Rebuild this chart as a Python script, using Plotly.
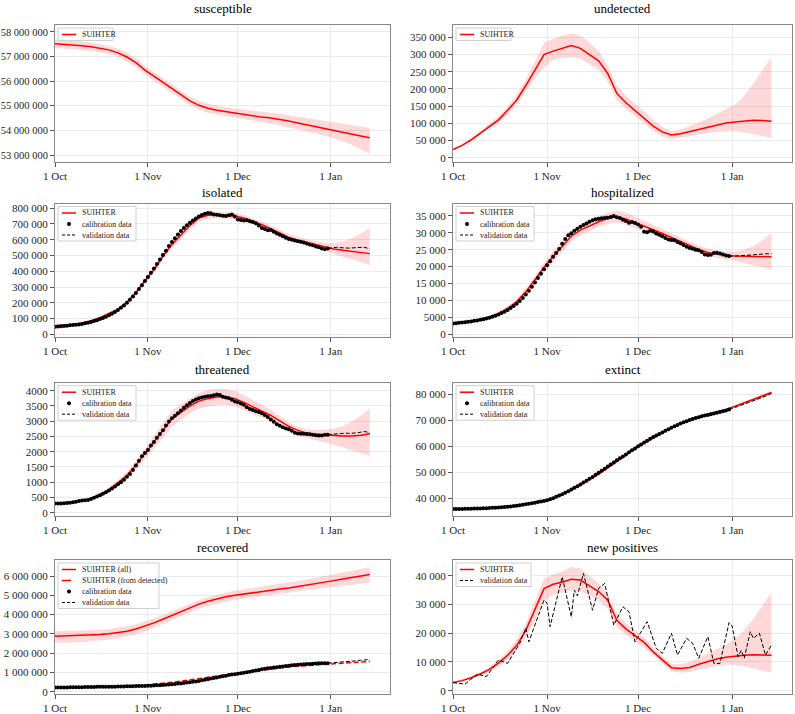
import pandas as pd
import plotly.graph_objects as go

# ---------------- data ----------------
start = pd.Timestamp('2020-10-01')
model_days = list(range(0, 106, 3))      # model output every 3 days, 1 Oct .. 14 Jan
calib_days = list(range(0, 92))          # daily calibration data, 1 Oct .. 31 Dec
valid_days = list(range(91, 106))        # daily validation data, 31 Dec .. 14 Jan

# susceptible (millions)
susceptible = [57.52, 57.50, 57.47, 57.44, 57.40, 57.34, 57.27, 57.15, 56.98, 56.75,
               56.45, 56.20, 55.95, 55.70, 55.45, 55.20, 55.02, 54.90, 54.82, 54.76,
               54.70, 54.64, 54.59, 54.54, 54.50, 54.45, 54.38, 54.30, 54.22, 54.15,
               54.08, 54.00, 53.93, 53.85, 53.77, 53.70]
susceptible_hi = [57.70, 57.68, 57.65, 57.62, 57.57, 57.51, 57.43, 57.32, 57.16, 56.93,
                  56.63, 56.37, 56.11, 55.86, 55.62, 55.38, 55.20, 55.08, 55.00, 54.94,
                  54.89, 54.84, 54.80, 54.76, 54.72, 54.68, 54.63, 54.57, 54.50, 54.44,
                  54.38, 54.32, 54.27, 54.22, 54.16, 54.10]
susceptible_lo = [57.35, 57.33, 57.30, 57.27, 57.23, 57.17, 57.10, 56.98, 56.80, 56.57,
                  56.27, 56.02, 55.78, 55.53, 55.28, 55.03, 54.84, 54.72, 54.64, 54.58,
                  54.51, 54.45, 54.39, 54.33, 54.28, 54.22, 54.14, 54.05, 53.96, 53.88,
                  53.78, 53.68, 53.56, 53.42, 53.25, 53.05]

# undetected (thousands)
undetected = [24, 36, 52, 72, 92, 110, 138, 168, 210, 255,
              300, 310, 317, 326, 318, 300, 282, 245, 187, 160,
              137, 115, 92, 75, 66, 70, 76, 83, 90, 96,
              101, 104, 107, 109, 108, 106]
undetected_hi = [26, 40, 57, 78, 100, 120, 150, 183, 228, 280,
                 333, 345, 355, 362, 355, 335, 310, 270, 210, 180,
                 158, 135, 110, 90, 77, 82, 92, 102, 115, 128,
                 140, 155, 180, 215, 255, 292]
undetected_lo = [22, 33, 48, 66, 85, 100, 126, 155, 193, 232,
                 262, 285, 290, 292, 288, 272, 255, 222, 168, 142,
                 120, 100, 78, 62, 54, 58, 63, 68, 72, 75,
                 77, 77, 74, 70, 63, 57]

# isolated (thousands)
isolated = [54, 58, 64, 72, 86, 105, 132, 160, 205, 265,
            340, 410, 495, 570, 630, 690, 738, 756, 757, 755,
            750, 738, 718, 695, 670, 640, 615, 597, 582, 568,
            554, 542, 534, 527, 519, 512]
isolated_hi = [57, 61, 67, 76, 91, 111, 140, 170, 217, 280,
               358, 430, 518, 595, 655, 713, 760, 778, 778, 775,
               770, 758, 738, 715, 690, 660, 635, 617, 602, 590,
               580, 580, 590, 610, 640, 675]
isolated_lo = [51, 55, 61, 68, 81, 99, 124, 150, 193, 250,
               322, 390, 472, 545, 605, 667, 716, 734, 736, 735,
               730, 718, 698, 675, 650, 620, 595, 577, 562, 546,
               530, 510, 492, 475, 457, 440]
isolated_cal = [48, 50, 52, 53, 55, 57, 59, 61, 63, 66,
                70, 74, 79, 84, 90, 97, 104, 112, 121, 131,
                142, 155, 168, 183, 200, 220, 240, 262, 287, 312,
                338, 364, 390, 418, 446, 475, 503, 530, 560, 585,
                610, 633, 655, 675, 692, 708, 722, 735, 748, 757,
                765, 770, 768, 760, 758, 756, 752, 750, 755, 760,
                748, 728, 725, 722, 724, 718, 712, 705, 690, 675,
                668, 660, 662, 650, 640, 632, 622, 612, 605, 600,
                595, 590, 588, 582, 577, 570, 565, 558, 552, 545,
                540, 545]
isolated_val = [545, 548, 550, 552, 550, 548, 546, 547, 548, 550, 552, 555, 553, 548, 542]

# hospitalized (thousands)
hospitalized = [3.2, 3.5, 3.9, 4.4, 5.1, 6.1, 7.6, 9.6, 12.5, 16.1,
                19.8, 23.0, 26.0, 29.0, 30.8, 32.1, 33.3, 34.3, 34.8, 34.1,
                33.1, 32.0, 30.9, 29.8, 28.6, 27.4, 26.2, 25.1, 24.2, 23.7,
                23.3, 23.1, 23.0, 22.9, 22.9, 22.9]
hospitalized_hi = [3.4, 3.7, 4.1, 4.7, 5.5, 6.6, 8.2, 10.4, 13.5, 17.3,
                   21.3, 24.6, 27.6, 30.5, 32.4, 33.8, 35.0, 36.0, 36.6, 36.0,
                   34.8, 33.6, 32.4, 31.2, 29.9, 28.6, 27.3, 26.2, 25.3, 24.8,
                   24.5, 24.5, 25.0, 26.0, 27.8, 30.0]
hospitalized_lo = [3.0, 3.3, 3.7, 4.1, 4.7, 5.6, 7.0, 8.8, 11.5, 14.9,
                   18.3, 21.4, 24.4, 27.5, 29.2, 30.5, 31.7, 32.6, 33.1, 32.4,
                   31.4, 30.4, 29.4, 28.4, 27.3, 26.2, 25.1, 24.0, 23.1, 22.6,
                   22.1, 21.7, 21.1, 20.4, 19.7, 19.0]
hospitalized_cal = [3.1, 3.2, 3.3, 3.4, 3.5, 3.6, 3.7, 3.9, 4.0, 4.2,
                    4.4, 4.6, 4.8, 5.1, 5.4, 5.8, 6.2, 6.6, 7.1, 7.7,
                    8.3, 9.0, 9.8, 10.7, 11.7, 12.8, 14.0, 15.3, 16.6, 17.9,
                    19.2, 20.4, 21.6, 22.9, 24.0, 25.2, 26.8, 28.2, 29.3, 29.9,
                    30.6, 31.2, 31.8, 32.3, 32.8, 33.3, 33.7, 34.0, 34.2, 34.3,
                    34.4, 34.5, 34.7, 35.0, 34.6, 34.4, 33.9, 33.5, 33.0, 33.2,
                    32.9, 32.5, 31.8, 30.3, 30.2, 30.6, 30.4, 29.8, 29.4, 29.0,
                    28.5, 28.0, 27.9, 27.8, 27.3, 26.9, 26.4, 25.9, 25.5, 25.3,
                    25.0, 24.8, 24.3, 23.6, 23.4, 23.5, 24.0, 24.1, 23.9, 23.6,
                    23.3, 23.1]
hospitalized_val = [23.1, 23.0, 23.1, 23.2, 23.2, 23.3, 23.3, 23.4, 23.5, 23.5,
                    23.6, 23.7, 23.8, 23.9, 23.8]

# threatened (units)
threatened = [300, 315, 345, 385, 450, 590, 760, 980, 1230, 1560,
              1930, 2300, 2700, 3080, 3300, 3500, 3660, 3740, 3790, 3800,
              3740, 3620, 3470, 3330, 3190, 3010, 2830, 2700, 2610, 2575,
              2550, 2530, 2515, 2515, 2540, 2590]
threatened_hi = [320, 335, 370, 415, 490, 640, 830, 1070, 1340, 1700,
                 2120, 2520, 2950, 3350, 3560, 3750, 3930, 4030, 4060, 4060,
                 3990, 3860, 3690, 3520, 3370, 3170, 2970, 2830, 2740, 2710,
                 2720, 2760, 2840, 2980, 3180, 3420]
threatened_lo = [280, 295, 320, 355, 410, 540, 690, 890, 1120, 1420,
                 1750, 2090, 2450, 2820, 3050, 3260, 3410, 3480, 3530, 3540,
                 3480, 3370, 3240, 3120, 3000, 2830, 2670, 2550, 2450, 2380,
                 2300, 2230, 2140, 2060, 1960, 1870]
threatened_cal = [300, 300, 305, 310, 320, 330, 345, 360, 380, 400,
                  410, 420, 450, 490, 530, 570, 620, 670, 730, 790,
                  860, 930, 1000, 1080, 1180, 1270, 1400, 1550, 1700, 1850,
                  1960, 2060, 2200, 2320, 2460, 2580, 2700, 2860, 2990, 3100,
                  3180, 3260, 3350, 3440, 3520, 3600, 3660, 3710, 3750, 3780,
                  3800, 3820, 3830, 3850, 3880, 3860, 3800, 3780, 3750, 3700,
                  3650, 3620, 3580, 3540, 3460, 3400, 3370, 3330, 3300, 3260,
                  3200, 3140, 3060, 2980, 2900, 2850, 2800, 2760, 2740, 2690,
                  2620, 2600, 2590, 2590, 2580, 2570, 2560, 2540, 2530, 2530,
                  2560, 2560]
threatened_val = [2560, 2570, 2580, 2590, 2600, 2600, 2610, 2600, 2600, 2610,
                  2620, 2640, 2660, 2650, 2600]

# extinct (thousands)
extinct = [35.8, 35.85, 35.9, 36.0, 36.2, 36.5, 36.8, 37.2, 37.7, 38.3,
           39.0, 39.9, 41.3, 43.0, 45.0, 47.0, 49.3, 51.7, 54.2, 56.6,
           59.0, 61.2, 63.3, 65.3, 67.2, 68.8, 70.3, 71.5, 72.5, 73.3,
           74.3, 75.5, 76.8, 78.1, 79.5, 80.8]
extinct_hi = [36.0, 36.05, 36.1, 36.2, 36.4, 36.7, 37.0, 37.4, 37.9, 38.5,
              39.2, 40.1, 41.5, 43.2, 45.2, 47.2, 49.5, 51.9, 54.4, 56.8,
              59.2, 61.4, 63.5, 65.5, 67.4, 69.0, 70.5, 71.7, 72.7, 73.5,
              74.6, 75.9, 77.3, 78.7, 80.2, 81.7]
extinct_lo = [35.6, 35.65, 35.7, 35.8, 36.0, 36.3, 36.6, 37.0, 37.5, 38.1,
              38.8, 39.7, 41.1, 42.8, 44.8, 46.8, 49.1, 51.5, 54.0, 56.4,
              58.8, 61.0, 63.1, 65.1, 67.0, 68.6, 70.1, 71.3, 72.3, 73.1,
              74.0, 75.1, 76.3, 77.5, 78.8, 80.0]
extinct_cal = [35.8, 35.8, 35.8, 35.8, 35.9, 35.9, 35.9, 36.0, 36.0, 36.0,
               36.1, 36.1, 36.2, 36.3, 36.3, 36.4, 36.5, 36.6, 36.7, 36.8,
               37.0, 37.1, 37.3, 37.4, 37.6, 37.8, 38.0, 38.2, 38.5, 38.7,
               38.9, 39.2, 39.6, 40.0, 40.5, 41.0, 41.5, 42.1, 42.7, 43.3,
               44.0, 44.6, 45.3, 46.0, 46.7, 47.5, 48.2, 49.0, 49.8, 50.6,
               51.4, 52.2, 53.0, 53.8, 54.6, 55.4, 56.1, 56.9, 57.7, 58.5,
               59.2, 60.0, 60.7, 61.5, 62.2, 62.9, 63.6, 64.2, 64.8, 65.4,
               66.0, 66.6, 67.2, 67.8, 68.3, 68.8, 69.3, 69.7, 70.2, 70.6,
               71.0, 71.3, 71.6, 71.9, 72.1, 72.4, 72.7, 73.0, 73.3, 73.6,
               73.9, 74.2]
extinct_val = [74.2, 74.6, 75.0, 75.4, 75.8, 76.2, 76.6, 77.0, 77.4, 77.9,
               78.4, 78.9, 79.4, 79.9, 80.5]

# recovered (millions)
recovered = [2.88, 2.89, 2.90, 2.91, 2.93, 2.96, 3.00, 3.06, 3.14, 3.25,
             3.40, 3.57, 3.76, 3.96, 4.17, 4.36, 4.54, 4.69, 4.82, 4.92,
             5.00, 5.07, 5.14, 5.20, 5.26, 5.32, 5.38, 5.45, 5.52, 5.60,
             5.68, 5.76, 5.84, 5.92, 6.00, 6.08]
recovered_hi = [3.13, 3.14, 3.15, 3.16, 3.18, 3.21, 3.25, 3.31, 3.39, 3.50,
                3.64, 3.80, 3.98, 4.18, 4.38, 4.57, 4.75, 4.90, 5.03, 5.14,
                5.23, 5.30, 5.38, 5.45, 5.52, 5.59, 5.66, 5.74, 5.82, 5.91,
                6.00, 6.09, 6.18, 6.27, 6.36, 6.46]
recovered_lo = [2.52, 2.54, 2.56, 2.58, 2.61, 2.65, 2.70, 2.77, 2.86, 2.98,
                3.14, 3.32, 3.51, 3.71, 3.92, 4.12, 4.30, 4.45, 4.58, 4.68,
                4.76, 4.83, 4.90, 4.96, 5.02, 5.08, 5.14, 5.20, 5.26, 5.32,
                5.38, 5.44, 5.50, 5.56, 5.61, 5.66]
recovered_det = [0.22, 0.22, 0.23, 0.23, 0.24, 0.25, 0.26, 0.27, 0.29, 0.31,
                 0.34, 0.38, 0.43, 0.49, 0.55, 0.62, 0.69, 0.76, 0.82, 0.88,
                 0.94, 1.00, 1.06, 1.12, 1.18, 1.23, 1.28, 1.32, 1.36, 1.39,
                 1.42, 1.45, 1.48, 1.51, 1.54, 1.57]
recovered_cal = [0.22, 0.22, 0.22, 0.22, 0.22, 0.23, 0.23, 0.23, 0.23, 0.23,
                 0.24, 0.24, 0.24, 0.24, 0.25, 0.25, 0.25, 0.25, 0.26, 0.26,
                 0.26, 0.27, 0.27, 0.27, 0.28, 0.28, 0.28, 0.29, 0.29, 0.30,
                 0.30, 0.31, 0.31, 0.32, 0.33, 0.34, 0.35, 0.36, 0.37, 0.38,
                 0.40, 0.42, 0.43, 0.45, 0.47, 0.49, 0.51, 0.53, 0.56, 0.59,
                 0.62, 0.65, 0.68, 0.71, 0.74, 0.77, 0.80, 0.83, 0.86, 0.89,
                 0.91, 0.93, 0.95, 0.98, 1.01, 1.04, 1.07, 1.10, 1.13, 1.16,
                 1.19, 1.21, 1.23, 1.25, 1.27, 1.29, 1.31, 1.33, 1.35, 1.37,
                 1.39, 1.40, 1.41, 1.42, 1.43, 1.44, 1.45, 1.46, 1.47, 1.47,
                 1.48, 1.48]
recovered_val = [1.48, 1.49, 1.51, 1.52, 1.53, 1.55, 1.56, 1.57, 1.59, 1.60,
                 1.61, 1.63, 1.64, 1.66, 1.67]

# new positives (thousands)
newpos = [2.8, 3.5, 4.5, 5.8, 7.4, 9.6, 12.3, 15.8, 21.0, 28.0,
          35.5, 37.0, 37.7, 38.8, 38.5, 36.5, 34.5, 31.5, 24.5, 21.5,
          19.0, 16.8, 13.5, 10.8, 8.0, 7.7, 8.1, 9.2, 10.2, 11.0,
          11.6, 12.0, 12.3, 12.5, 12.5, 12.3]
newpos_hi = [3.1, 3.9, 5.0, 6.5, 8.3, 10.8, 13.9, 17.8, 23.5, 31.5,
             39.0, 40.5, 41.5, 43.0, 42.5, 40.0, 37.5, 34.0, 27.0, 23.5,
             21.0, 18.5, 15.0, 12.2, 9.3, 9.2, 10.0, 11.5, 13.0, 14.5,
             16.0, 18.0, 21.0, 25.0, 29.5, 34.3]
newpos_lo = [2.5, 3.1, 4.0, 5.1, 6.5, 8.4, 10.7, 13.8, 18.5, 24.5,
             31.0, 33.5, 34.0, 35.0, 34.5, 33.0, 31.5, 28.5, 22.0, 19.5,
             17.0, 15.0, 12.0, 9.5, 6.8, 6.2, 6.5, 7.3, 8.0, 8.5,
             9.0, 9.0, 8.5, 7.8, 7.0, 6.2]
newpos_val_days = [0, 4, 8, 11, 15, 18, 22, 24, 25, 30, 31, 32, 36, 39, 40, 41, 43, 46,
                   48, 50, 53, 56, 58, 60, 64, 67, 69, 72, 74, 77, 79, 81, 84, 86, 88,
                   91, 92, 94, 95, 96, 98, 99, 101, 103, 105]
newpos_val = [2.8, 2.3, 5.8, 4.9, 10.7, 9.5, 16.5, 21.8, 17.0, 31.5, 30.5, 22.3, 39.6,
              25.7, 35.0, 33.0, 40.8, 28.0, 35.6, 37.3, 22.8, 29.2, 27.5, 17.0, 24.0,
              14.7, 13.0, 20.0, 12.4, 18.2, 16.5, 11.3, 18.8, 9.5, 9.5, 23.7, 22.5,
              11.8, 14.0, 11.3, 20.5, 18.2, 20.0, 12.4, 15.9]

x_tickvals = ['2020-10-01', '2020-11-01', '2020-12-01', '2021-01-01']
x_ticktext = ['1 Oct', '1 Nov', '1 Dec', '1 Jan']

# ---------------- layout helpers ----------------
W, H = 795, 714
ML, MR, MT, MB = 55, 3, 25, 20
PW, PH = W - ML - MR, H - MT - MB
FONT = 'Liberation Serif'
RED = '#ff0000'
BAND = 'rgba(255,0,0,0.15)'


def fx(p):
    return (p - ML) / PW


def fy(p):
    return (H - MB - p) / PH


def to_dates(days):
    return [start + pd.Timedelta(days=d) for d in days]


def fmt(v):
    v = int(round(v))
    if abs(v) >= 10000:
        return f'{v:,}'.replace(',', ' ')
    return str(v)


col_px = {1: (55, 390), 2: (453, 792)}
row_px = {1: (25, 161.7), 2: (203.5, 336.7), 3: (382.7, 516), 4: (560, 694)}
title_px = {1: 8.3, 2: 192.3, 3: 370, 4: 547.3}

mdates = to_dates(model_days)
cdates = to_dates(calib_days)
vdates = to_dates(valid_days)

panels = [
    dict(title='susceptible', row=1, col=1, scale=1e6, model=susceptible,
         hi=susceptible_hi, lo=susceptible_lo, yrange=[52.73e6, 58.28e6],
         ticks=[53e6, 54e6, 55e6, 56e6, 57e6, 58e6], legend=['SUIHTER'], lw=55, tfs=10.5),
    dict(title='undetected', row=1, col=2, scale=1e3, model=undetected,
         hi=undetected_hi, lo=undetected_lo, yrange=[-11.6e3, 386e3],
         ticks=[0, 50e3, 100e3, 150e3, 200e3, 250e3, 300e3, 350e3], legend=['SUIHTER'], lw=55),
    dict(title='isolated', row=2, col=1, scale=1e3, model=isolated, hi=isolated_hi,
         lo=isolated_lo, cal=isolated_cal, val=isolated_val, yrange=[-15e3, 830e3],
         ticks=[0, 100e3, 200e3, 300e3, 400e3, 500e3, 600e3, 700e3, 800e3],
         legend=['SUIHTER', 'calibration data', 'validation data'], lw=78),
    dict(title='hospitalized', row=2, col=2, scale=1e3, model=hospitalized,
         hi=hospitalized_hi, lo=hospitalized_lo, cal=hospitalized_cal, val=hospitalized_val,
         yrange=[-800, 38700], ticks=[0, 5e3, 10e3, 15e3, 20e3, 25e3, 30e3, 35e3],
         legend=['SUIHTER', 'calibration data', 'validation data'], lw=78),
    dict(title='threatened', row=3, col=1, scale=1, model=threatened, hi=threatened_hi,
         lo=threatened_lo, cal=threatened_cal, val=threatened_val, yrange=[-108, 4263],
         ticks=[0, 500, 1000, 1500, 2000, 2500, 3000, 3500, 4000],
         legend=['SUIHTER', 'calibration data', 'validation data'], lw=78),
    dict(title='extinct', row=3, col=2, scale=1e3, model=extinct, hi=extinct_hi,
         lo=extinct_lo, cal=extinct_cal, val=extinct_val, yrange=[33.1e3, 84.6e3],
         ticks=[40e3, 50e3, 60e3, 70e3, 80e3],
         legend=['SUIHTER', 'calibration data', 'validation data'], lw=78),
    dict(title='recovered', row=4, col=1, scale=1e6, model=recovered, hi=recovered_hi,
         lo=recovered_lo, det=recovered_det, cal=recovered_cal, val=recovered_val,
         yrange=[-0.12e6, 6.83e6], ticks=[0, 1e6, 2e6, 3e6, 4e6, 5e6, 6e6],
         legend=['SUIHTER (all)', 'SUIHTER (from detected)', 'calibration data',
                 'validation data'], lw=101),
    dict(title='new positives', row=4, col=2, scale=1e3, model=newpos, hi=newpos_hi,
         lo=newpos_lo, yrange=[-1150, 45460], ticks=[0, 10e3, 20e3, 30e3, 40e3],
         legend=['SUIHTER', 'validation data'], lw=75),
]

fig = go.Figure()
layout = dict(width=W, height=H, margin=dict(l=ML, r=MR, t=MT, b=MB, autoexpand=False),
              paper_bgcolor='white', plot_bgcolor='white', showlegend=False,
              font=dict(family=FONT, size=11, color='#262626'))
shapes, annotations = [], []

for i, p in enumerate(panels, start=1):
    xa, ya = f'x{i}', f'y{i}'
    s = p['scale']
    L, R = col_px[p['col']]
    T, B = row_px[p['row']]

    def sc(vals):
        return [v * s for v in vals]

    fig.add_trace(go.Scatter(x=mdates + mdates[::-1], y=sc(p['hi']) + sc(p['lo'])[::-1],
                             fill='toself', fillcolor=BAND, line=dict(width=0),
                             hoverinfo='skip', xaxis=xa, yaxis=ya))
    fig.add_trace(go.Scatter(x=mdates, y=sc(p['model']), mode='lines',
                             line=dict(color=RED, width=1.5), xaxis=xa, yaxis=ya))
    if 'det' in p:
        fig.add_trace(go.Scatter(x=mdates, y=sc(p['det']), mode='lines',
                                 line=dict(color=RED, width=1.5, dash='5px,2.5px'),
                                 xaxis=xa, yaxis=ya))
    if 'cal' in p:
        fig.add_trace(go.Scatter(x=cdates, y=sc(p['cal']), mode='markers',
                                 marker=dict(color='black', size=4), xaxis=xa, yaxis=ya))
    if 'val' in p:
        fig.add_trace(go.Scatter(x=vdates, y=sc(p['val']), mode='lines',
                                 line=dict(color='black', width=1, dash='4px,2px'),
                                 xaxis=xa, yaxis=ya))
    if p['title'] == 'new positives':
        fig.add_trace(go.Scatter(x=to_dates(newpos_val_days), y=sc(newpos_val), mode='lines',
                                 line=dict(color='black', width=1, dash='4px,2px'),
                                 xaxis=xa, yaxis=ya))

    suffix = '' if i == 1 else str(i)
    layout['xaxis' + suffix] = dict(
        domain=[fx(L), fx(R)], anchor=ya, range=['2020-10-01', '2021-01-20 18:00'],
        tickvals=x_tickvals, ticktext=x_ticktext, ticks='outside', ticklen=4,
        tickcolor='#555', showgrid=True, gridcolor='#ebebeb', gridwidth=1,
        showline=True, linecolor='#888', linewidth=1, mirror=True, zeroline=False,
        automargin=False, tickfont=dict(size=11))
    layout['yaxis' + suffix] = dict(
        domain=[fy(B), fy(T)], anchor=xa, range=p['yrange'],
        tickvals=p['ticks'], ticktext=[fmt(t) for t in p['ticks']], ticks='outside',
        ticklen=4, tickcolor='#555', showgrid=True, gridcolor='#ebebeb', gridwidth=1,
        showline=True, linecolor='#888', linewidth=1, mirror=True, zeroline=False,
        automargin=False, tickfont=dict(size=p.get('tfs', 11)))

    # panel title
    annotations.append(dict(text=p['title'], xref='paper', yref='paper',
                            x=fx((L + R) / 2), y=fy(title_px[p['row']]), showarrow=False,
                            xanchor='center', yanchor='middle',
                            font=dict(family=FONT, size=13, color='black')))

    # legend box, drawn by hand to keep matplotlib-like compact spacing
    n = len(p['legend'])
    bx0, by0 = L + 3, T + 3
    bx1, by1 = bx0 + p['lw'], by0 + 11 * n + 1.5
    shapes.append(dict(type='rect', xref='paper', yref='paper', layer='above',
                       x0=fx(bx0), x1=fx(bx1), y0=fy(by1), y1=fy(by0),
                       line=dict(color='#d0d0d0', width=1),
                       fillcolor='rgba(255,255,255,0.85)'))
    for k, label in enumerate(p['legend']):
        cy = by0 + 6.5 + 11 * k
        if label.startswith('SUIHTER'):
            dash = 'dash' if 'detected' in label else 'solid'
            shapes.append(dict(type='line', xref='paper', yref='paper', layer='above',
                               x0=fx(L + 7), x1=fx(L + 21), y0=fy(cy), y1=fy(cy),
                               line=dict(color=RED, width=1.5, dash=dash)))
        elif label == 'calibration data':
            shapes.append(dict(type='circle', xref='paper', yref='paper', layer='above',
                               x0=fx(L + 12), x1=fx(L + 16), y0=fy(cy + 2), y1=fy(cy - 2),
                               fillcolor='black', line=dict(color='black', width=0)))
        else:
            shapes.append(dict(type='line', xref='paper', yref='paper', layer='above',
                               x0=fx(L + 7), x1=fx(L + 21), y0=fy(cy), y1=fy(cy),
                               line=dict(color='black', width=1, dash='3px,2px')))
        annotations.append(dict(text=label, xref='paper', yref='paper', x=fx(L + 25),
                                y=fy(cy), xanchor='left', yanchor='middle', showarrow=False,
                                font=dict(family=FONT, size=8, color='#222')))

layout['shapes'] = shapes
layout['annotations'] = annotations
fig.update_layout(**layout)

# the page's default body margin would shift the figure by 8px
fig.write_html('out.html', config={'displayModeBar': False},
               post_script="document.body.style.margin='0';"
                           "document.body.style.overflow='hidden';")
